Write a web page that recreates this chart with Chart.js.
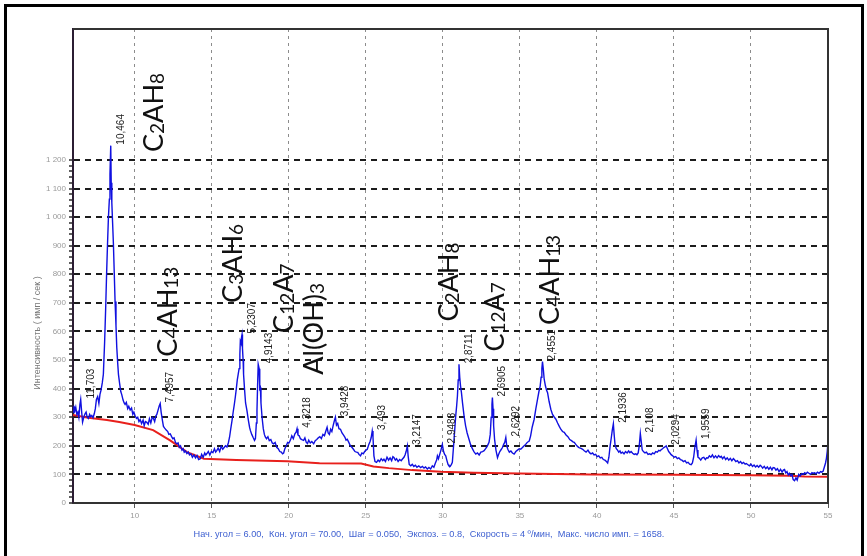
<!DOCTYPE html>
<html lang="ru">
<head>
<meta charset="utf-8">
<title>Рентгенограмма</title>
<script src="https://cdn.jsdelivr.net/npm/chart.js@4.4.1/dist/chart.umd.min.js"></script>
<style>
  html, body { margin: 0; padding: 0; background: #fff; }
  #wrap { width: 867px; height: 556px; }
</style>
</head>
<body>
<div id="wrap"><canvas id="xrd" width="867" height="556"></canvas></div>
<script>
// scan: 2θ (deg) and counts
const twoTheta = [
  6.00,6.06,6.12,6.18,6.25,6.32,6.38,6.45,6.50,6.56,6.62,6.70,6.78,6.85,6.92,7.00,7.08,7.15,7.22,7.30,7.38,7.45,
  7.52,7.60,7.68,7.75,7.82,7.90,7.97,8.05,8.12,8.18,8.24,8.30,8.36,8.40,8.45,8.48,8.52,8.57,8.62,8.68,8.73,8.79,8.84,8.90,8.95,9.02,9.10,9.16,9.25,9.32,9.38,9.46,9.55,9.62,9.71,9.80,9.88,9.95,
  10.03,10.12,10.20,10.28,10.36,10.45,10.55,10.62,10.70,10.79,10.88,10.96,11.05,11.14,11.22,11.30,11.38,11.44,11.52,11.60,11.66,11.72,11.80,11.87,11.95,12.05,12.15,12.22,12.31,12.40,12.48,12.56,12.65,12.74,12.82,12.90,12.98,13.07,13.15,13.22,13.30,13.39,13.48,13.56,13.65,13.75,13.85,13.95,14.05,14.15,14.26,14.35,14.45,14.55,14.62,14.69,14.78,14.88,14.98,15.08,15.18,15.26,15.34,15.42,15.52,15.62,15.72,15.82,15.90,15.99,
  16.08,16.16,16.24,16.32,16.40,16.47,16.53,16.60,16.66,16.72,16.78,16.83,16.86,16.90,16.94,16.97,17.00,17.04,17.07,17.13,17.20,17.29,17.38,17.46,17.51,17.60,17.70,17.78,17.84,17.90,17.94,17.98,18.02,18.05,18.08,18.12,18.16,18.20,18.27,18.35,18.42,18.48,18.56,18.65,18.74,18.84,18.93,19.02,19.12,19.22,19.32,19.42,19.52,19.60,19.67,19.75,19.84,19.93,
  20.02,20.11,20.20,20.30,20.40,20.48,20.54,20.60,20.68,20.76,20.85,20.97,21.05,21.14,21.22,21.30,21.40,21.50,21.62,21.72,21.82,21.92,22.02,22.12,22.22,22.32,22.40,22.49,22.56,22.64,22.72,22.80,22.88,22.95,23.03,23.10,23.18,23.26,23.36,23.46,23.55,23.65,23.72,23.80,23.90,24.00,24.10,24.20,24.30,24.40,24.48,24.56,24.66,24.75,24.84,24.93,
  25.02,25.10,25.20,25.28,25.35,25.42,25.47,25.53,25.60,25.70,25.80,25.90,26.00,26.10,26.18,26.28,26.38,26.48,26.58,26.68,26.76,26.83,26.92,27.00,27.10,27.20,27.30,27.37,27.48,27.55,27.62,27.70,27.75,27.82,27.92,28.02,28.12,28.22,28.32,28.44,28.56,28.68,28.78,28.88,29.00,29.10,29.21,29.32,29.42,29.52,29.60,29.65,29.72,29.80,29.88,29.97,
  30.05,30.12,30.19,30.26,30.34,30.40,30.48,30.56,30.62,30.70,30.78,30.84,30.90,30.95,31.00,31.05,31.10,31.15,31.21,31.28,31.38,31.48,31.58,31.70,31.80,31.92,32.02,32.14,32.25,32.36,32.47,32.58,32.68,32.78,32.88,33.00,33.08,33.14,33.19,33.22,33.26,33.30,33.36,33.45,33.55,33.62,33.70,33.80,33.87,33.95,34.02,34.09,34.15,34.22,34.32,34.42,34.52,34.63,34.74,34.85,34.96,35.06,35.17,35.28,35.38,35.48,35.56,35.61,35.70,35.80,35.93,
  36.04,36.15,36.24,36.32,36.38,36.43,36.47,36.52,36.58,36.66,36.73,36.80,36.90,37.01,37.12,37.24,37.34,37.45,37.56,37.66,37.77,37.88,38.00,38.12,38.24,38.35,38.45,38.53,38.63,38.74,38.84,38.97,39.08,39.18,39.30,39.42,39.52,39.62,39.72,39.82,39.92,40.02,40.12,40.22,40.32,40.42,40.52,40.62,40.70,
  40.78,40.86,40.94,41.00,41.07,41.12,41.18,41.26,41.34,41.42,41.50,41.57,41.66,41.76,41.86,41.96,42.06,42.14,42.22,42.32,42.42,42.52,42.60,42.68,42.75,42.82,42.88,42.94,43.02,43.12,43.22,43.32,43.42,43.52,43.62,43.72,43.82,43.92,44.02,44.10,44.17,44.26,44.34,44.42,44.50,44.58,44.66,44.74,44.82,44.92,45.02,45.12,45.22,45.32,45.42,45.52,45.62,45.72,45.82,45.92,46.02,46.12,
  46.20,46.28,46.36,46.44,46.50,46.56,46.64,46.74,46.84,46.94,47.04,47.12,47.20,47.30,47.40,47.50,47.60,47.70,47.80,47.90,48.00,48.07,48.16,48.26,48.36,48.46,48.56,48.66,48.76,48.86,48.93,49.02,49.12,49.22,49.32,49.42,49.52,49.62,49.70,49.80,49.90,50.00,50.10,50.20,50.30,50.40,50.50,50.60,50.67,50.76,50.86,50.96,51.06,51.16,51.26,51.36,51.44,51.53,51.62,51.72,51.82,51.92,52.02,52.10,52.18,52.26,52.34,52.42,52.50,52.58,52.66,52.74,52.83,52.92,53.00,53.10,53.20,53.30,53.40,53.49,53.58,53.66,53.76,53.86,53.96,54.04,54.13,54.22,54.32,54.42,54.52,54.60,54.68,54.76,54.84,54.90,54.95,55.00
];
const counts = [
  318,340,322,335,310,318,300,345,362,320,283,300,312,318,300,296,310,302,306,298,312,330,
  362,372,348,380,395,420,450,560,680,800,905,1000,1063,1150,1250,1120,1050,980,910,800,705,620,545,490,450,420,390,380,360,350,345,352,330,338,325,332,310,318,
  305,296,300,285,292,278,290,270,285,282,275,295,280,300,296,285,305,310,325,340,348,318,290,268,262,255,250,240,242,232,225,228,212,207,210,195,200,185,190,178,182,173,178,168,172,160,168,158,166,152,155,170,160,175,168,173,180,168,180,176,190,178,184,192,180,198,188,195,200,196,
  210,230,260,288,320,345,369,400,430,450,470,520,566,560,580,589,540,500,450,400,350,323,290,265,254,240,228,219,225,280,323,410,485,485,470,400,404,350,300,260,240,231,225,232,218,222,210,207,212,195,190,180,178,172,175,190,200,212,
  210,220,235,225,242,248,260,238,235,225,222,219,228,212,208,220,210,215,207,218,222,228,232,225,240,235,250,265,245,240,258,250,270,285,300,272,278,260,258,245,238,230,220,223,212,200,195,188,180,178,177,170,165,175,172,180,
  185,188,205,215,228,252,230,165,145,142,150,145,155,148,153,145,160,150,158,148,162,159,150,155,145,152,148,153,160,168,180,200,165,135,130,135,128,132,125,130,124,128,122,126,119,124,119,130,125,140,150,165,155,170,185,205,
  180,170,165,150,135,130,128,135,142,200,260,305,340,374,430,485,440,410,386,350,305,270,245,223,205,190,180,171,175,168,178,180,183,190,198,212,240,300,345,369,330,270,223,185,159,170,180,188,194,205,212,229,200,188,178,182,175,171,180,185,190,188,194,200,205,212,215,217,235,265,293,
  330,363,390,409,440,470,495,470,433,410,395,386,355,328,310,300,293,280,268,258,250,247,238,232,222,218,214,212,205,198,194,191,188,183,178,185,176,172,175,168,170,162,165,158,160,152,150,145,140,
  160,200,230,255,277,240,203,190,185,178,182,174,178,172,180,175,182,176,180,174,170,172,169,175,200,243,215,186,180,175,178,170,172,169,175,172,180,178,184,182,186,190,194,196,200,190,180,175,169,165,160,162,155,158,152,150,145,148,140,142,136,134,
  140,160,195,220,185,160,157,150,158,160,152,158,157,165,160,168,158,165,158,166,160,163,155,162,152,158,150,156,148,155,151,145,148,140,145,138,142,136,138,134,130,136,128,133,126,131,125,132,129,122,128,120,126,118,125,116,124,123,115,120,110,118,108,115,117,105,110,98,104,95,100,82,78,88,80,100,95,103,100,106,102,108,104,100,106,104,106,102,108,104,110,108,111,125,140,157,180,214
];

// background (red) line
const baseTheta = [6, 7, 8.2, 9, 10, 11.2, 12.3, 13.4, 14.5, 16.6, 19.9, 22, 24.7, 25.5, 26.5, 28, 29.9, 32, 35, 39.6, 45, 50, 52.5, 53.5, 55];
const baseCounts = [308, 298, 290, 283, 273, 255, 219, 178, 155, 150, 146, 139, 138, 128, 122, 115, 109, 106, 103, 100, 99, 97, 95, 93, 92];

// axis ticks
const xTicks = [10, 15, 20, 25, 30, 35, 40, 45, 50, 55];
const yTicks = [0, 100, 200, 300, 400, 500, 600, 700, 800, 900, 1000, 1100, 1200];

// d-spacing labels over the peaks
const peakTheta = [6.5, 8.45, 11.66, 16.97, 18.05, 20.54, 23.03, 25.42, 27.7, 29.97, 31.05, 33.22, 34.09, 36.47, 41.07, 42.82, 44.5, 46.44];
const peakText = ['11,703', '10,464', '7,4957', '5,2307', '4,9143', '4,3218', '3,9428', '3,493', '3,2147', '2,9488',
                  '2,8711', '2,6905', '2,6292', '2,4551', '2,1936', '2,108', '2,0294', '1,9559'];

// phase labels (start point in data units, "_n" = subscript)
const phaseText = ['C_2AH_8', 'C_4AH_13', 'C_3AH_6', 'C_12A_7', 'Al(OH)_3', 'C_2AH_8', 'C_12A_7', 'C_4AH_13'];
const phaseTheta = [11.85, 12.73, 16.96, 20.3, 22.2, 30.97, 33.96, 37.53];
const phaseCounts = [1228, 512, 700, 595, 449, 635, 530, 623];

const yTitle = 'Интенсивность ( имп / сек )';
const footerText = 'Нач. угол = 6.00,  Кон. угол = 70.00,  Шаг = 0.050,  Экспоз. = 0.8,  Скорость = 4 º/мин,  Макс. число имп. = 1658.';

// minor ticks every 20 between the labelled ones
const yMinor = [];
yTicks.forEach(v => { for (let k = 0; k < 100 && v + k <= 1200; k += 20) yMinor.push(v + k); });

Chart.defaults.font.family = "'Liberation Sans', Arial, sans-serif";

function fmtY(v) {
  return v >= 1000 ? Math.floor(v / 1000) + ' ' + String(v % 1000).padStart(3, '0') : String(v);
}

function drawFormula(ctx, s, size) {
  let pos = 0;
  s.split(/(_\d+)/).forEach(part => {
    if (!part) return;
    const sub = part[0] === '_';
    const txt = sub ? part.slice(1) : part;
    ctx.font = (sub ? Math.round(size * 0.7) : size) + "px Lato, 'Open Sans', sans-serif";
    ctx.fillText(txt, pos, sub ? 1 : 0);
    pos += ctx.measureText(txt).width;
  });
}

// outer frame, plot box
const frame = {
  id: 'frame',
  beforeDraw(chart) {
    const ctx = chart.ctx;
    ctx.save();
    ctx.fillStyle = '#fff';
    ctx.fillRect(0, 0, chart.width, chart.height);
    ctx.strokeStyle = '#000';
    ctx.lineWidth = 3;
    ctx.beginPath();
    ctx.moveTo(5.5, 556);
    ctx.lineTo(5.5, 5.5);
    ctx.lineTo(862.5, 5.5);
    ctx.lineTo(862.5, 556);
    ctx.stroke();
    ctx.restore();
  },
  afterDatasetsDraw(chart) {
    const {ctx, chartArea: {top, right, bottom, left}} = chart;
    ctx.save();
    ctx.strokeStyle = '#333';
    ctx.lineWidth = 2;
    ctx.beginPath();
    ctx.moveTo(left, top);
    ctx.lineTo(right, top);
    ctx.lineTo(right, bottom);
    ctx.stroke();
    ctx.restore();
  }
};

// peak labels, phase labels, axis title, footer
const annotate = {
  id: 'annotate',
  afterDraw(chart) {
    const {ctx, scales: {x, y}} = chart;
    ctx.save();
    ctx.textAlign = 'left';
    ctx.textBaseline = 'alphabetic';

    ctx.fillStyle = '#222';
    ctx.font = "10px 'Liberation Sans Narrow', 'Liberation Sans', sans-serif";
    peakTheta.forEach((t, i) => {
      let top = 0;
      twoTheta.forEach((v, j) => { if (Math.abs(v - t) < 0.1 && counts[j] > top) top = counts[j]; });
      ctx.save();
      ctx.translate(x.getPixelForValue(t) + 13, y.getPixelForValue(top) - 1);
      ctx.rotate(-Math.PI / 2);
      ctx.fillText(peakText[i], 0, 0);
      ctx.restore();
    });

    ctx.fillStyle = '#111';
    phaseText.forEach((s, i) => {
      ctx.save();
      ctx.translate(x.getPixelForValue(phaseTheta[i]), y.getPixelForValue(phaseCounts[i]));
      ctx.rotate(-Math.PI / 2);
      drawFormula(ctx, s, 27);
      ctx.restore();
    });

    ctx.save();
    ctx.fillStyle = '#7a7a7a';
    ctx.font = "9px 'Liberation Sans', sans-serif";
    ctx.textAlign = 'center';
    ctx.translate(40, 333);
    ctx.rotate(-Math.PI / 2);
    ctx.fillText(yTitle, 0, 0);
    ctx.restore();

    ctx.fillStyle = '#3d5fd0';
    ctx.font = "9.2px 'Liberation Sans', sans-serif";
    ctx.textAlign = 'center';
    ctx.fillText(footerText, 429, 537);
    ctx.restore();
  }
};

new Chart(document.getElementById('xrd'), {
  type: 'line',
  data: {
    datasets: [
      {
        label: 'Образец',
        data: twoTheta.map((t, i) => ({x: t, y: counts[i]})),
        borderColor: '#1010e0',
        borderWidth: 1.4,
        pointRadius: 0,
        tension: 0,
        order: 0
      },
      {
        label: 'Фон',
        data: baseTheta.map((t, i) => ({x: t, y: baseCounts[i]})),
        borderColor: '#e8201c',
        borderWidth: 2,
        pointRadius: 0,
        tension: 0,
        order: 1
      }
    ]
  },
  options: {
    responsive: false,
    animation: false,
    devicePixelRatio: 1,
    layout: {padding: {top: 29, right: 39, left: 0, bottom: 0}},
    plugins: {legend: {display: false}, tooltip: {enabled: false}},
    scales: {
      x: {
        type: 'linear',
        min: 6,
        max: 55,
        afterBuildTicks: s => { s.ticks = xTicks.map(v => ({value: v})); },
        afterFit: s => { s.height = 53; },
        ticks: {autoSkip: false, maxRotation: 0, color: '#9a9a9a', font: {size: 8}, padding: 3},
        grid: {
          color: c => (c.tick && c.tick.value < 55) ? '#8c8c8c' : 'rgba(0,0,0,0)',
          lineWidth: 1,
          tickLength: 5,
          tickColor: '#555',
          tickWidth: 1
        },
        border: {color: '#333', width: 2, dash: [3, 4]}
      },
      y: {
        type: 'linear',
        min: 0,
        max: 1658,
        afterBuildTicks: s => { s.ticks = yMinor.map(v => ({value: v})); },
        afterFit: s => { s.width = 73; },
        ticks: {
          autoSkip: false,
          color: '#9a9a9a',
          font: {size: 8},
          padding: 3,
          callback: v => (v % 100 === 0 ? fmtY(v) : '')
        },
        grid: {
          color: c => (c.tick && c.tick.value % 100 === 0 && c.tick.value > 0) ? '#1c1c1c' : 'rgba(0,0,0,0)',
          lineWidth: c => (c.tick && c.tick.value % 100 === 0 && c.tick.value > 0) ? 2 : 0,
          tickLength: 4,
          tickColor: '#2a2a2a',
          tickWidth: 1.5
        },
        border: {color: '#2b1d33', width: 2, dash: [6, 5]}
      }
    }
  },
  plugins: [frame, annotate]
});
</script>
</body>
</html>
